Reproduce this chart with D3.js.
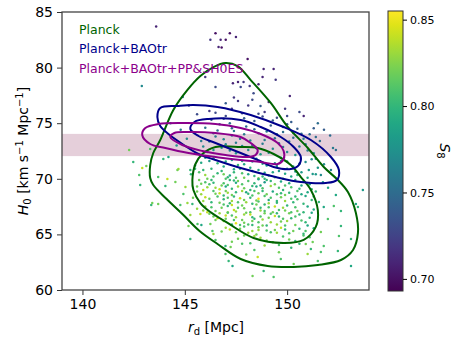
<!DOCTYPE html>
<html>
<head>
<meta charset="utf-8">
<script src="https://cdn.jsdelivr.net/npm/d3@7"></script>
<style>
  body { margin: 0; background: #fff; }
  text { font-family: "DejaVu Sans", sans-serif; }
</style>
</head>
<body>
<script>
// sample chain points: rd, H0, S8
var samples = (
 "143.6 83.7 .71;146.5 83.1 .70;146.75 82.5 .71;147.0 82.5 .70;146.65 81.85 .71;146.8 81.8 .70;146.25 82.5 .72;147.2 83.1 .70;147.5 82.75 .71;" +
 "146.0 79.15 .72;146.5 78.25 .73;147.35 78.6 .71;147.0 76.8 .74;147.4 77.3 .72;144.9 77.35 .76;142.9 78.35 .77;147.6 78.7 .71;" +
 "148.07 80.77 .70;148.85 79.87 .71;149.34 79.87 .71;148.8 79.15 .71;149.44 78.9 .72;147.87 78.7 .72;147.73 78.25 .73;148.17 78.35 .72;" +
 "148.6 78.5 .71;148.36 77.7 .73;150.13 77.45 .71;148.3 77.1 .73;148.7 76.55 .74;" +
 "150.81 75.65 .71;151.5 75.0 .75;152.24 72.77 .76;152.38 72.6 .75;151.4 71.8 .77;151.06 70.8 .78;151.25 70.43 .78;151.65 70.34 .77;" +
 "152.14 70.8 .76;153.7 69.0 .78;152.38 68.54 .79;151.75 69.7 .78;" +
 "151.55 67.91 .80;151.79 67.46 .79;152.28 67.55 .81;152.63 67.1 .80;153.36 67.73 .79;153.46 67.46 .80;151.99 66.38 .81;152.63 65.76 .80;" +
 "151.65 65.22 .82;152.53 64.86 .81;153.12 64.59 .80;151.25 64.32 .82;151.79 63.96 .81;152.48 63.51 .80;151.0 63.24 .83;151.5 62.61 .81;" +
 "153.12 62.16 .79;150.32 62.34 .82;149.34 61.17 .81;148.85 61.71 .80;148.31 61.26 .82;148.56 62.97 .84;149.69 62.79 .81;151.16 63.69 .80;" +
 "150.91 64.14 .82;151.65 63.42 .81;" +
 "143.36 67.64 .80;143.7 67.73 .82;144.78 67.64 .81;145.13 67.82 .83;145.37 67.73 .80;145.62 65.94 .81;145.81 65.85 .79;145.18 65.76 .82;" +
 "145.27 64.59 .80;146.35 65.31 .81;146.4 65.04 .83;146.99 63.96 .80;147.24 63.87 .82;146.99 63.24 .81;147.33 62.16 .79;147.14 62.61 .80;" +
 "146.25 65.94 .82;145.76 66.83 .84;" +
 "142.28 72.59 .82;142.48 71.51 .80;142.92 70.97 .84;143.12 71.15 .82;142.77 70.34 .81;143.31 72.68 .81;143.95 71.78 .80;144.2 71.96 .79;" +
 "144.64 70.79 .82;144.69 70.88 .83;144.15 69.98 .84;143.7 70.16 .81;144.05 69.35 .80;144.54 69.71 .82;145.03 69.26 .83;144.93 68.63 .81;" +
 "145.27 70.79 .80;142.82 69.44 .80;143.41 67.82 .82;145.27 66.74 .83;146.5 64.5 .81;" +
 "145.6 75.8 .73;146.2 76.1 .72;146.9 75.4 .74;147.3 76.3 .72;147.8 75.9 .73;148.4 75.2 .74;148.9 76.0 .72;149.5 75.5 .73;150.2 75.1 .74;" +
 "146.0 74.6 .75;146.7 74.9 .74;147.4 74.3 .76;148.0 74.7 .75;148.6 74.1 .76;149.2 74.8 .74;149.8 74.2 .75;150.5 74.5 .74;151.1 74.0 .75;" +
 "145.4 74.2 .76;145.1 73.6 .77;145.8 73.4 .76;146.5 73.8 .76;147.0 73.1 .77;147.7 73.6 .76;148.3 73.0 .77;148.9 73.5 .76;149.6 73.2 .76;" +
 "150.3 73.7 .75;150.9 73.1 .76;151.6 73.4 .75;144.6 73.0 .78;145.3 72.7 .78;146.1 72.4 .78;146.8 72.8 .77;147.5 72.3 .78;148.1 72.6 .77;" +
 "148.7 72.2 .78;149.3 72.7 .77;150.0 72.4 .77;150.6 72.9 .76;151.3 72.3 .77;146.3 75.3 .74;147.6 77.0 .72;148.1 76.6 .72;149.1 76.9 .71;" +
 "149.9 76.3 .72;150.6 76.0 .73;145.2 76.6 .73;144.3 75.0 .75;144.8 74.4 .76;147.2 75.0 .75;148.8 75.6 .73;150.0 74.9 .74;151.8 74.4 .74;" +
 "152.1 73.9 .75;146.4 74.1 .76;147.9 74.0 .76;149.5 74.0 .75;150.8 73.6 .76;147.3 73.9 .76;" +
 "145.5 71.2 .79;146.2 71.6 .78;146.9 71.1 .79;147.3 71.7 .78;147.9 71.3 .79;148.5 71.8 .78;149.0 71.2 .78;149.7 71.6 .78;150.3 71.1 .78;" +
 "150.9 71.5 .77;151.5 71.0 .78;146.6 71.4 .80;148.2 71.0 .79;149.4 71.4 .77;" +
 "145.3 70.4 .80;145.9 70.8 .80;146.4 70.2 .81;146.8 70.7 .80;147.2 70.3 .79;147.7 70.9 .80;148.1 70.4 .79;148.6 70.8 .79;149.1 70.3 .80;" +
 "149.6 70.7 .78;150.2 70.2 .79;150.7 70.6 .78;146.1 70.0 .82;147.5 70.1 .81;148.9 70.0 .80;150.0 70.9 .79;151.0 70.1 .79;145.7 69.9 .82;" +
 "145.6 69.3 .82;146.0 69.7 .81;146.5 69.2 .83;146.9 69.6 .81;147.3 69.1 .80;147.8 69.5 .81;148.2 69.0 .80;148.7 69.4 .79;149.2 69.8 .80;" +
 "149.6 69.2 .81;150.1 69.6 .79;150.6 69.1 .80;151.1 69.5 .79;146.3 69.9 .80;147.6 69.8 .82;148.9 69.7 .78;150.4 69.9 .80;145.9 69.0 .84;" +
 "147.0 69.3 .79;148.4 69.6 .80;149.9 69.4 .81;" +
 "145.8 68.6 .83;146.2 68.2 .82;146.7 68.7 .84;147.1 68.3 .81;147.5 68.8 .80;147.9 68.1 .82;148.3 68.5 .81;148.8 68.9 .80;149.2 68.3 .81;" +
 "149.7 68.7 .80;150.2 68.2 .81;150.7 68.6 .79;151.2 68.1 .80;146.4 68.9 .81;147.3 68.0 .83;148.6 68.2 .85;149.5 68.0 .80;150.5 68.9 .81;" +
 "145.4 68.3 .82;146.9 68.5 .80;148.0 68.8 .79;149.0 68.6 .82;151.0 68.8 .79;" +
 "146.0 67.5 .83;146.5 67.1 .82;146.9 67.7 .81;147.4 67.2 .84;147.8 67.6 .82;148.2 67.0 .81;148.7 67.4 .80;149.1 67.8 .83;149.6 67.2 .81;" +
 "150.0 67.6 .80;150.5 67.1 .82;151.0 67.5 .79;146.3 67.9 .80;147.6 67.9 .81;148.5 67.7 .82;149.4 67.5 .84;150.3 67.9 .80;147.1 67.0 .83;" +
 "148.9 67.1 .81;150.8 67.0 .80;145.6 67.3 .83;" +
 "146.4 66.6 .82;146.9 66.2 .83;147.3 66.7 .81;147.8 66.3 .82;148.2 66.8 .84;148.6 66.1 .81;149.1 66.5 .82;149.5 66.9 .80;150.0 66.2 .83;" +
 "150.4 66.6 .81;150.9 66.1 .80;147.5 66.0 .85;148.9 66.9 .82;149.8 66.4 .81;146.7 66.9 .83;147.0 66.4 .82;148.4 66.4 .80;150.6 66.8 .80;" +
 "147.0 65.6 .83;147.5 65.2 .82;147.9 65.7 .81;148.3 65.3 .83;148.8 65.8 .82;149.2 65.2 .81;149.7 65.6 .84;150.1 65.1 .81;150.6 65.5 .80;" +
 "148.5 65.0 .82;149.5 65.9 .83;147.3 65.9 .80;151.0 65.8 .79;" +
 "147.6 64.6 .82;148.2 64.2 .81;148.7 64.7 .83;149.3 64.3 .82;149.8 64.8 .81;150.4 64.4 .80;148.9 64.0 .83;147.9 64.9 .82;150.8 64.9 .81;" +
 "148.4 63.6 .81;149.6 63.4 .82;150.2 63.8 .80;148.0 63.2 .82;" +
 "146.6 70.5 .80;147.0 70.0 .81;147.4 70.6 .80;147.9 70.1 .82;148.3 70.7 .79;148.8 70.2 .80;149.3 70.6 .79;149.8 70.0 .81;146.8 69.4 .82;" +
 "147.2 69.9 .80;147.6 69.3 .83;148.1 69.8 .81;148.5 69.3 .79;149.0 69.9 .80;149.4 69.5 .82;149.8 69.0 .80;146.6 68.4 .81;147.0 68.9 .82;" +
 "147.4 68.4 .80;147.8 68.9 .83;148.2 68.3 .80;148.6 68.7 .82;149.1 68.1 .79;149.5 68.6 .81;149.9 68.0 .83;150.4 68.4 .80;146.8 67.4 .82;" +
 "147.2 67.8 .80;147.6 67.4 .81;148.0 67.9 .83;148.4 67.3 .81;148.9 67.7 .80;149.3 67.0 .82;149.8 67.4 .83;150.2 67.0 .81;147.0 66.7 .84;" +
 "147.4 66.3 .81;147.9 66.8 .83;148.3 66.2 .82;148.7 66.6 .81;149.2 66.1 .83;149.6 66.6 .80;150.1 66.9 .82;147.7 65.5 .82;148.1 65.9 .81;" +
 "148.6 65.4 .83;149.0 65.8 .80;149.4 65.4 .82;149.9 65.8 .81;150.3 65.3 .82;146.2 69.5 .81;145.9 68.0 .83;146.1 67.0 .84;146.5 66.3 .82;" +
 "150.7 69.4 .79;151.3 68.4 .80;151.1 66.5 .80;150.9 65.3 .81;151.4 70.4 .78;149.7 71.9 .78;147.8 71.6 .79;146.0 71.9 .79;145.5 70.9 .80;" +
 "151.8 71.3 .77;152.0 69.2 .79;" +
 "145.7 70.6 .81;146.3 70.9 .80;146.9 70.4 .82;147.4 70.85 .79;147.8 70.5 .81;148.4 70.25 .80;148.9 70.55 .78;149.4 70.15 .81;149.9 70.45 .79;" +
 "150.4 70.65 .78;146.0 70.35 .83;147.1 70.15 .80;148.6 70.05 .82;150.5 70.35 .80;" +
 "145.8 69.55 .82;146.4 69.65 .80;146.7 69.05 .84;147.1 69.45 .81;147.5 69.65 .79;147.9 69.15 .82;148.3 69.35 .80;148.8 69.15 .81;149.2 69.35 .83;" +
 "149.7 69.75 .79;150.2 69.25 .81;150.8 69.75 .78;151.2 69.05 .80;146.1 69.25 .83;147.4 69.85 .80;148.6 69.95 .79;" +
 "145.6 68.85 .82;146.0 68.35 .84;146.5 68.65 .82;146.9 68.15 .80;147.3 68.55 .82;147.7 68.25 .84;148.1 68.65 .80;148.5 68.05 .82;148.9 68.45 .81;" +
 "149.3 68.85 .79;149.7 68.35 .82;150.1 68.75 .80;150.5 68.15 .81;150.9 68.45 .79;151.4 68.85 .80;147.1 68.75 .83;148.4 68.9 .81;149.9 68.55 .82;" +
 "145.9 67.15 .83;146.3 67.45 .81;146.7 67.85 .82;147.1 67.55 .80;147.5 67.05 .83;147.9 67.35 .82;148.3 67.75 .80;148.7 67.15 .83;149.1 67.45 .81;" +
 "149.5 67.85 .80;149.9 67.15 .82;150.4 67.45 .81;150.8 67.75 .80;151.3 67.25 .79;147.3 67.65 .84;148.6 67.95 .81;" +
 "146.2 66.85 .82;146.6 66.45 .84;147.1 66.95 .81;147.5 66.55 .83;147.9 66.05 .82;148.3 66.55 .80;148.8 66.35 .83;149.2 66.85 .81;149.7 66.15 .82;" +
 "150.2 66.45 .80;150.7 66.25 .81;151.2 66.95 .79;148.0 66.95 .82;149.4 66.65 .84;" +
 "146.8 65.25 .82;147.2 65.45 .84;147.7 65.85 .81;148.1 65.15 .83;148.6 65.65 .82;149.0 65.35 .81;149.5 65.15 .83;149.9 65.45 .80;150.4 65.85 .82;" +
 "150.8 65.05 .80;151.3 65.55 .79;148.3 65.85 .80;" +
 "147.3 64.35 .82;147.8 64.15 .81;148.4 64.85 .83;149.0 64.45 .82;149.6 64.05 .81;150.1 64.55 .82;150.6 64.15 .80;151.1 64.75 .81;" +
 "145.9 72.9 .77;146.4 72.6 .78;147.2 72.55 .77;147.8 72.95 .77;148.5 72.75 .78;149.1 72.35 .77;149.8 72.85 .76;150.4 72.15 .78;151.0 72.55 .76;" +
 "146.2 73.35 .76;146.9 73.55 .77;147.5 73.25 .76;148.2 73.45 .77;148.8 73.15 .76;149.4 73.65 .75;150.1 73.35 .76;150.7 74.05 .75;151.4 73.75 .75;" +
 "146.6 74.35 .75;147.3 74.55 .75;148.4 74.45 .75;149.0 74.25 .76;149.8 74.65 .74;150.3 74.15 .75;151.3 74.55 .74;" +
 "147.0 75.65 .73;147.9 75.45 .74;148.6 75.85 .73;149.3 75.25 .74;150.0 75.65 .73;146.5 75.95 .73;" +
 "145.8 71.45 .79;146.4 71.85 .78;147.0 71.55 .79;147.6 71.25 .80;148.3 71.55 .78;148.8 71.35 .79;149.5 71.15 .78;150.0 71.55 .78;150.6 71.35 .77;" +
 "151.2 71.75 .77"
).split(";").map(function (s) { var p = s.split(" "); return { rd: +p[0], h0: +p[1], s8: +p[2] }; });

// contour outlines [rd, H0]
var planckOuter = [[143.31,70.07],[143.31,71.24],[143.46,72.32],[143.80,73.49],[144.44,76.19],[145.13,77.99],[145.76,79.24],[146.40,80.05],
  [146.99,80.41],[147.58,80.14],[148.22,78.88],[149.20,76.82],[150.03,74.66],[151.01,72.77],[151.79,71.06],[152.48,69.89],[152.97,68.81],
  [153.36,66.92],[153.46,65.13],[153.22,63.60],[152.63,62.70],[151.50,62.25],[150.32,62.07],[149.05,62.16],[147.73,62.79],[146.60,64.14],
  [145.72,65.31],[144.93,66.74],[144.10,68.2],[143.46,69.44]];
var planckInner = [[145.37,69.89],[145.52,71.33],[145.86,72.23],[146.50,72.86],[147.73,72.86],[148.56,72.77],[149.34,72.23],[150.18,71.24],
  [150.67,70.16],[151.16,69.0],[151.50,67.19],[151.40,65.67],[150.81,64.50],[149.83,64.23],[148.36,64.68],[147.09,66.03],[146.25,67.01],
  [145.76,67.82],[145.42,69.0]];
var baoOuter = [[143.66,75.56],[143.80,76.37],[144.64,76.55],[145.42,76.64],[146.60,76.46],[148.22,75.74],[149.83,74.66],[151.16,73.49],
  [152.14,71.96],[152.53,70.79],[152.43,69.89],[151.89,69.62],[150.67,69.71],[149.44,70.16],[147.73,70.97],[146.50,71.69],[145.67,72.23],
  [144.88,73.13],[144.20,74.03],[143.80,74.75]];
var baoInner = [[145.27,74.48],[145.47,75.11],[146.16,75.38],[147.73,75.29],[148.71,74.66],[149.69,73.76],[150.32,72.86],[150.67,71.96],
  [150.57,71.24],[150.18,70.88],[149.34,71.06],[148.56,71.69],[147.73,72.32],[146.50,73.22],[145.67,73.85]];
var shoesOuter = [[142.92,73.94],[143.07,74.57],[143.71,74.93],[144.88,75.02],[146.50,74.93],[147.73,74.57],[148.71,74.03],[149.54,73.22],
  [149.83,72.50],[149.83,71.78],[149.54,71.33],[148.71,71.51],[147.73,71.69],[146.50,71.96],[145.18,72.32],[144.05,72.77],[143.31,73.13]];
var shoesInner = [[144.29,73.76],[144.49,74.12],[145.18,74.21],[146.50,74.12],[147.73,73.76],[148.22,73.22],[148.56,72.59],[148.46,72.14],
  [148.07,71.96],[146.99,72.14],[145.86,72.50],[144.88,73.04]];

var seriesNames = ["Planck", "Planck+BAOtr", "Planck+BAOtr+PP&SH0ES"];
var seriesColors = ["#006400", "#00008b", "#8b008b"];
var contours = [[planckOuter, planckInner], [baoOuter, baoInner], [shoesOuter, shoesInner]];

var h0Band = [72.04, 74.04];
var xTicks = [140, 145, 150];
var yTicks = [60, 65, 70, 75, 80, 85];
var cTicks = [0.70, 0.75, 0.80, 0.85];

var W = 463, H = 348;
var m = { left: 62, right: 369, top: 12, bottom: 290 };

var svg = d3.select("body").append("svg").attr("width", W).attr("height", H);

var x = d3.scaleLinear().domain([139, 154]).range([m.left, m.right]);
var y = d3.scaleLinear().domain([60, 85]).range([m.bottom, m.top]);
var c = d3.scaleSequential(d3.interpolateViridis).domain([0.693, 0.855]);

svg.append("defs").append("clipPath").attr("id", "clip")
  .append("rect").attr("x", m.left).attr("y", m.top).attr("width", m.right - m.left).attr("height", m.bottom - m.top);

var plot = svg.append("g").attr("clip-path", "url(#clip)");

// SH0ES band
plot.append("rect")
  .attr("x", m.left).attr("width", m.right - m.left)
  .attr("y", y(h0Band[1])).attr("height", y(h0Band[0]) - y(h0Band[1]))
  .attr("fill", "#e5cfda");

plot.selectAll("circle").data(samples).enter().append("circle")
  .attr("cx", function (d) { return x(d.rd); })
  .attr("cy", function (d) { return y(d.h0); })
  .attr("r", 1.25)
  .attr("fill", function (d) { return c(d.s8); });

var line = d3.line()
  .x(function (d) { return x(d[0]); })
  .y(function (d) { return y(d[1]); })
  .curve(d3.curveCatmullRomClosed.alpha(0.5));

contours.forEach(function (pair, i) {
  pair.forEach(function (pts) {
    plot.append("path").attr("d", line(pts))
      .attr("fill", "none").attr("stroke", seriesColors[i]).attr("stroke-width", 2);
  });
});

// axes
var xa = svg.append("g").attr("transform", "translate(0," + m.bottom + ")")
  .call(d3.axisBottom(x).tickValues(xTicks).tickSize(5).tickPadding(4));
var ya = svg.append("g").attr("transform", "translate(" + m.left + ",0)")
  .call(d3.axisLeft(y).tickValues(yTicks).tickSize(5).tickPadding(4));
[xa, ya].forEach(function (g) {
  g.select(".domain").remove();
  g.selectAll("text").style("font-size", "14px").attr("fill", "#000");
  g.selectAll("line").attr("stroke", "#333");
});

svg.append("rect").attr("x", m.left).attr("y", m.top)
  .attr("width", m.right - m.left).attr("height", m.bottom - m.top)
  .attr("fill", "none").attr("stroke", "#444").attr("stroke-width", 1.3);

// legend
seriesNames.forEach(function (n, i) {
  svg.append("text").attr("x", 79).attr("y", 33.5 + i * 19.5)
    .attr("fill", seriesColors[i]).style("font-size", "12.5px").text(n);
});

// axis labels
var xl = svg.append("text").attr("x", 216).attr("y", 332).attr("text-anchor", "middle").style("font-size", "14px");
xl.append("tspan").attr("font-style", "italic").text("r");
xl.append("tspan").attr("dy", 3).style("font-size", "10px").text("d");
xl.append("tspan").attr("dy", -3).text(" [Mpc]");

var yl = svg.append("text").attr("transform", "translate(28,151) rotate(-90)")
  .attr("text-anchor", "middle").style("font-size", "14px");
yl.append("tspan").attr("font-style", "italic").text("H");
yl.append("tspan").attr("dy", 3).style("font-size", "10px").text("0");
yl.append("tspan").attr("dy", -3).text(" [km s");
yl.append("tspan").attr("dy", -5).style("font-size", "10px").text("\u22121");
yl.append("tspan").attr("dy", 5).text(" Mpc");
yl.append("tspan").attr("dy", -5).style("font-size", "10px").text("\u22121");
yl.append("tspan").attr("dy", 5).text("]");

// colorbar
var cb = { x: 388, w: 15, top: 11, bottom: 291 };
var cy = d3.scaleLinear().domain(c.domain()).range([cb.bottom, cb.top]);
var grad = svg.select("defs").append("linearGradient").attr("id", "vir")
  .attr("x1", 0).attr("y1", 1).attr("x2", 0).attr("y2", 0);
d3.range(0, 1.0001, 0.05).forEach(function (t) {
  grad.append("stop").attr("offset", t).attr("stop-color", d3.interpolateViridis(t));
});
svg.append("rect").attr("x", cb.x).attr("y", cb.top).attr("width", cb.w).attr("height", cb.bottom - cb.top)
  .attr("fill", "url(#vir)").attr("stroke", "#333").attr("stroke-width", 1);
var ca = svg.append("g").attr("transform", "translate(" + (cb.x + cb.w) + ",0)")
  .call(d3.axisRight(cy).tickValues(cTicks).tickFormat(d3.format(".2f")).tickSize(4).tickPadding(3));
ca.select(".domain").remove();
ca.selectAll("text").style("font-size", "11px").attr("fill", "#000");

var cl = svg.append("text").attr("transform", "translate(440,151) rotate(90)")
  .attr("text-anchor", "middle").style("font-size", "14px");
cl.append("tspan").attr("font-style", "italic").text("S");
cl.append("tspan").attr("dy", 3).style("font-size", "10px").text("8");
</script>
</body>
</html>
